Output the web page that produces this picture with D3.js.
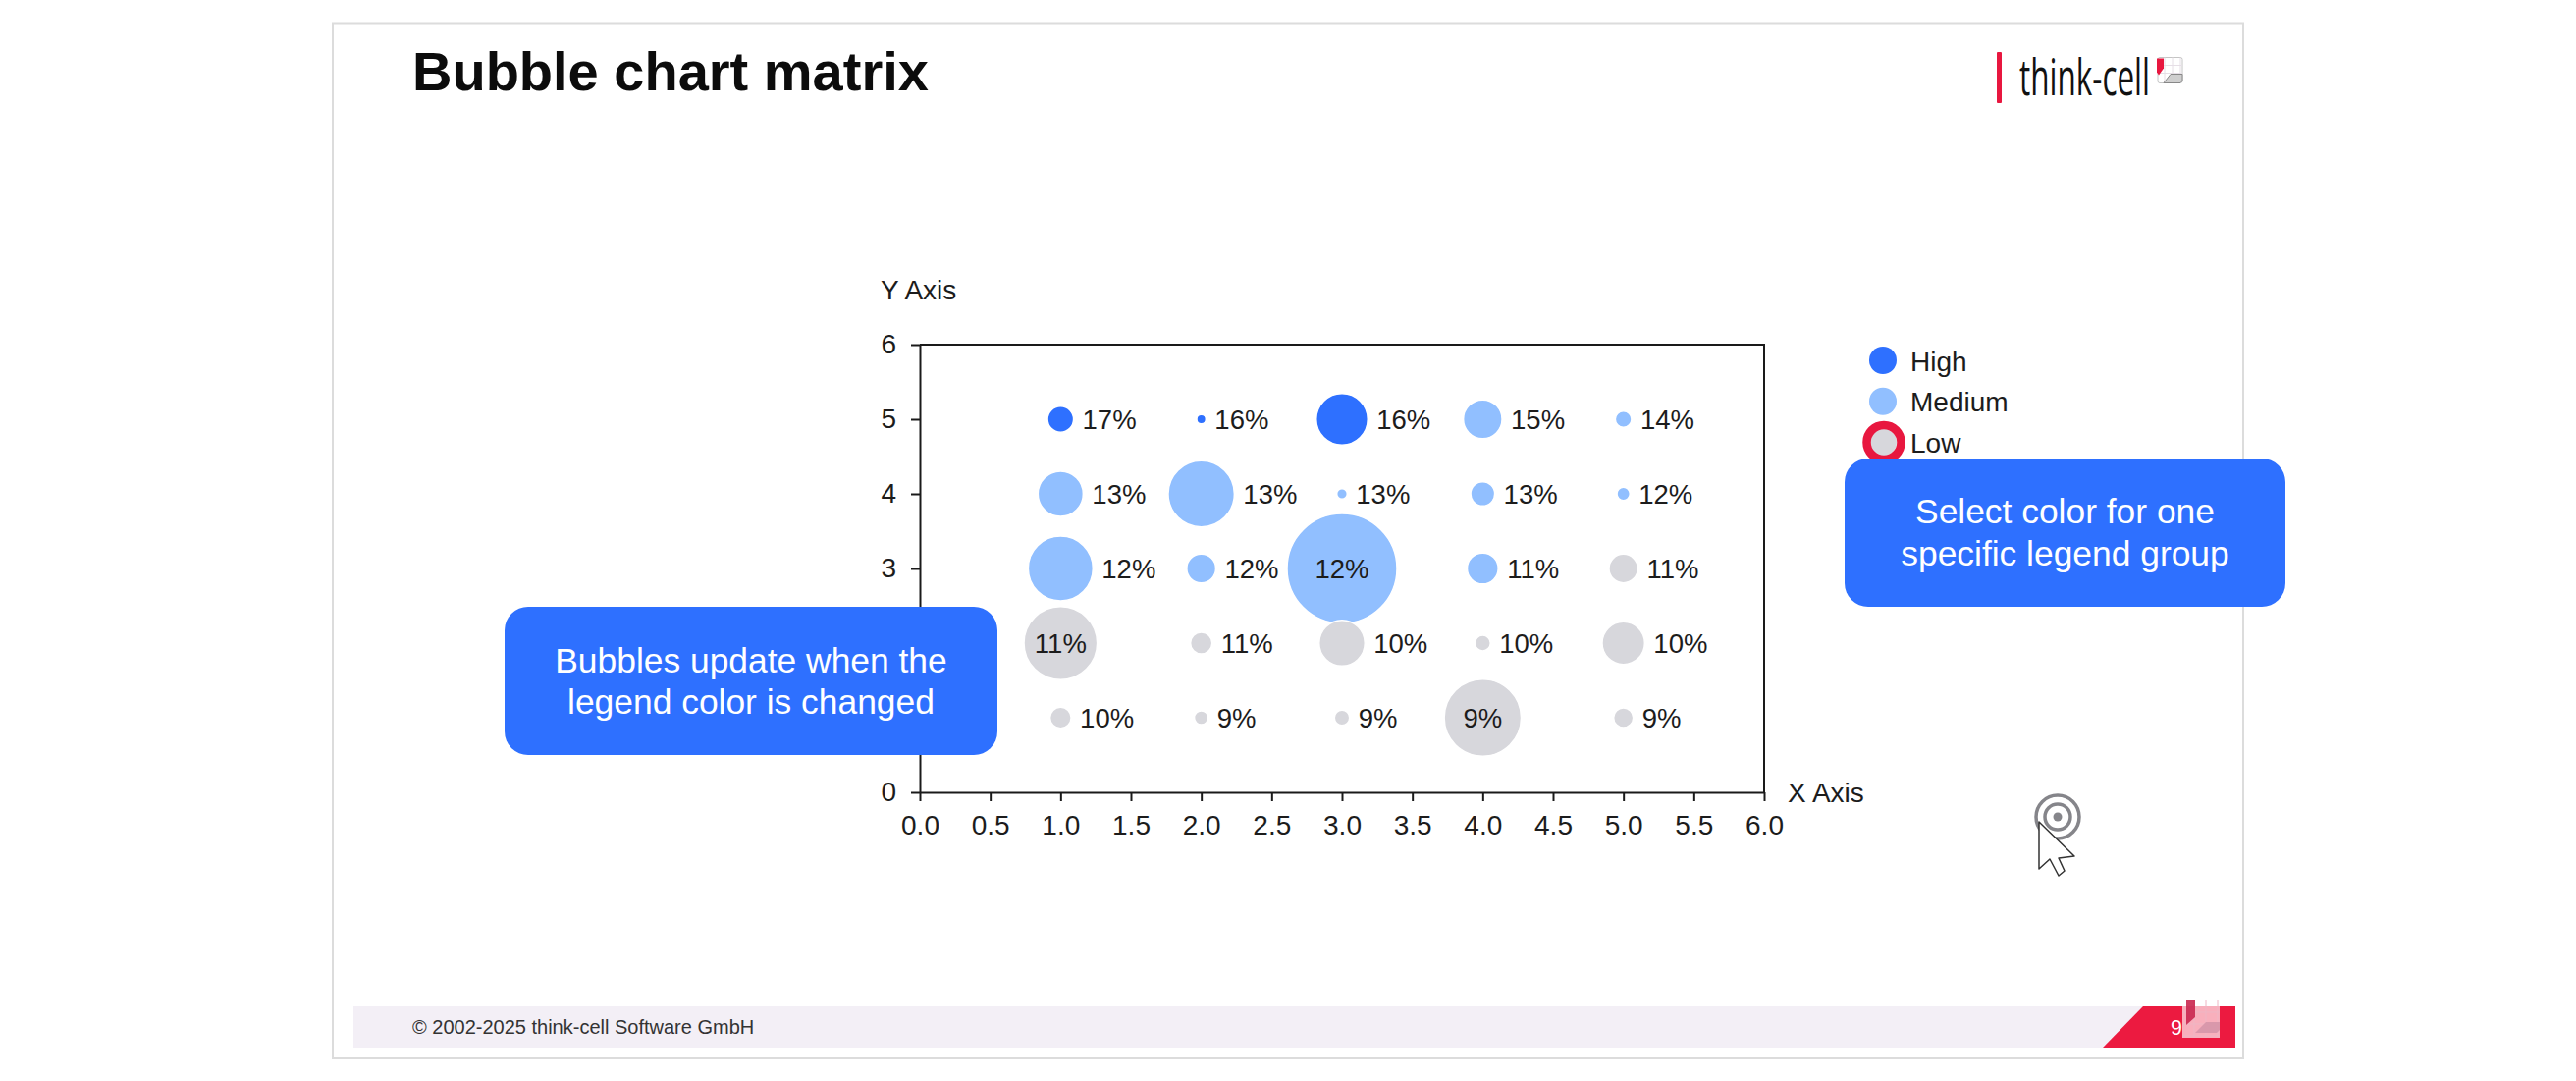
<!DOCTYPE html>
<html>
<head>
<meta charset="utf-8">
<title>Bubble chart matrix</title>
<script src="https://cdnjs.cloudflare.com/ajax/libs/d3/7.8.5/d3.min.js"></script>
<style>
	html, body { margin: 0; padding: 0; background: #fff; overflow: hidden; }
	svg { display: block; }
	text { font-family: "Liberation Sans", Arial, sans-serif; fill: #1c1c1c; }
	.axis path, .axis line { stroke: #1a1a1a; stroke-width: 2px; }
	.axis text { font-size: 28px; fill: #1c1c1c; }
</style>
</head>
<body>
<div id="viz"></div>
<script>
var xTicks = [0, 0.5, 1, 1.5, 2, 2.5, 3, 3.5, 4, 4.5, 5, 5.5, 6];
var yTicks = [0, 1, 2, 3, 4, 5, 6];
// these two labels sit under the left callout in the slide
var yTicksCovered = [1, 2];

var xValues = [1, 2, 3, 4, 5, 1, 2, 3, 4, 5, 1, 2, 3, 4, 5, 1, 2, 3, 4, 5, 1, 2, 3, 4, 5];
var yValues = [5, 5, 5, 5, 5, 4, 4, 4, 4, 4, 3, 3, 3, 3, 3, 2, 2, 2, 2, 2, 1, 1, 1, 1, 1];
var sizeValues = [5.6, 0.7, 22, 12.4, 2.2, 16.9, 36.2, 0.9, 4.8, 1.4, 34.7, 7, 100, 8, 6.9, 44.4, 3.9, 17.3, 2, 15, 3.7, 1.6, 1.9, 49, 3.2];
var percentLabels = ['17%', '16%', '16%', '15%', '14%', '13%', '13%', '13%', '13%', '12%', '12%', '12%', '12%', '11%', '11%', '11%', '11%', '10%', '10%', '10%', '10%', '9%', '9%', '9%', '9%'];
var groups = ['High', 'High', 'High', 'Medium', 'Medium', 'Medium', 'Medium', 'Medium', 'Medium', 'Medium', 'Medium', 'Medium', 'Medium', 'Medium', 'Low', 'Low', 'Low', 'Low', 'Low', 'Low', 'Low', 'Low', 'Low', 'Low', 'Low'];
var legendGroups = ['High', 'Medium', 'Low'];
var legendColors = ['#2e70ff', '#91bfff', '#d7d7dc'];

var w = 2624,
	h = 1101,
	plotLeft = 937,
	plotRight = 1797,
	plotTop = 351,
	plotBottom = 807,
	labelGap = 9;

var svg = d3.select('#viz')
	.append('svg')
	.attr('width', w)
	.attr('height', h);

var x = d3.scaleLinear().domain([0, 6]).range([plotLeft, plotRight]);
var y = d3.scaleLinear().domain([0, 6]).range([plotBottom, plotTop]);
var radius = d3.scaleSqrt().domain([0, 100]).range([0, 56]);
var color = d3.scaleOrdinal().domain(legendGroups).range(legendColors);

// slide frame
svg.append('rect')
	.attr('x', 339)
	.attr('y', 23.5)
	.attr('width', 1946)
	.attr('height', 1054.5)
	.attr('fill', '#fff')
	.attr('stroke', '#dcdcdc')
	.attr('stroke-width', 2);

svg.append('text')
	.attr('x', 420)
	.attr('y', 91.5)
	.attr('font-size', 56)
	.attr('font-weight', 'bold')
	.style('fill', '#0c0c0c')
	.text('Bubble chart matrix');

// logo
svg.append('rect')
	.attr('x', 2034)
	.attr('y', 53)
	.attr('width', 5)
	.attr('height', 52)
	.attr('rx', 1)
	.attr('fill', '#e8173f');

svg.append('text')
	.attr('x', 2057)
	.attr('y', 97)
	.attr('font-size', 51)
	.attr('textLength', 133)
	.attr('lengthAdjust', 'spacingAndGlyphs')
	.style('font-family', '"Open Sans", sans-serif')
	.style('font-weight', 400)
	.style('fill', '#111')
	.text('think-cell');

function drawGrid(g, size, step, stroke) {
	d3.range(step, size, step).forEach(function (p) {
		g.append('path')
			.attr('d', 'M' + p + ' 0V' + size + 'M0 ' + p + 'H' + size)
			.attr('stroke', stroke)
			.attr('stroke-width', 1);
	});
}

var logoIcon = svg.append('g').attr('transform', 'translate(2197,58.5)');
logoIcon.append('rect')
	.attr('x', 1)
	.attr('width', 25)
	.attr('height', 26)
	.attr('rx', 2)
	.attr('fill', '#fff')
	.attr('stroke', '#c4c4c4')
	.attr('stroke-width', 1);
drawGrid(logoIcon, 26, 8, '#e6dfe6');
logoIcon.append('path')
	.attr('d', 'M0 1H7V11L2 18L0 15Z')
	.attr('fill', '#e8173f');
logoIcon.append('path')
	.attr('d', 'M7 26L14 17H26V24L24 26Z')
	.attr('fill', '#cfcfcf')
	.attr('stroke', '#888');

// footer
svg.append('rect')
	.attr('x', 360)
	.attr('y', 1025)
	.attr('width', 1917)
	.attr('height', 42)
	.attr('fill', '#f3eff6');

svg.append('path')
	.attr('d', 'M2183 1025H2277V1067H2142Z')
	.attr('fill', '#ec1a40');

svg.append('text')
	.attr('x', 420)
	.attr('y', 1052.5)
	.attr('font-size', 20)
	.style('fill', '#333')
	.text('\u00a9 2002-2025 think-cell Software GmbH');

svg.append('text')
	.attr('x', 2211)
	.attr('y', 1054)
	.attr('font-size', 21.5)
	.style('fill', '#fff')
	.text('9');

var footerIcon = svg.append('g').attr('transform', 'translate(2223,1019)');
footerIcon.append('rect')
	.attr('width', 38)
	.attr('height', 38)
	.attr('fill', '#fff')
	.attr('opacity', 0.65);
drawGrid(footerIcon, 38, 12, '#eeb6c4');
footerIcon.append('path')
	.attr('d', 'M4 0H13V17L4 25Z')
	.attr('fill', '#c9274f')
	.attr('opacity', 0.9);
footerIcon.append('path')
	.attr('d', 'M13 33L24 22H38V30L35 33Z')
	.attr('fill', '#d998ab');

// axes and plot frame
svg.append('path')
	.attr('d', d3.line()([[plotLeft, plotTop], [plotRight, plotTop], [plotRight, plotBottom]]))
	.attr('fill', 'none')
	.attr('stroke', '#1a1a1a')
	.attr('stroke-width', 2);

svg.append('g')
	.attr('class', 'axis')
	.attr('transform', 'translate(0,' + plotBottom + ')')
	.call(d3.axisBottom(x).tickValues(xTicks).tickFormat(d3.format('.1f')).tickSize(9).tickPadding(14).tickSizeOuter(0));

svg.append('g')
	.attr('class', 'axis')
	.attr('transform', 'translate(' + plotLeft + ',0)')
	.call(d3.axisLeft(y).tickValues(yTicks).tickFormat(function (d) {
		return yTicksCovered.indexOf(d) >= 0 ? '' : d3.format('d')(d);
	}).tickSize(9).tickPadding(15).tickSizeOuter(0));

svg.append('text')
	.attr('x', 897)
	.attr('y', 305)
	.attr('font-size', 28)
	.text('Y Axis');

svg.append('text')
	.attr('x', 1821)
	.attr('y', 817)
	.attr('font-size', 28)
	.text('X Axis');

// bubbles, top row first so that lower rows sit on top
var bubbleData = xValues.map(function (d, i) {
	return {x: d, y: yValues[i], size: sizeValues[i], label: percentLabels[i], group: groups[i]};
});

svg.selectAll('.bubble')
	.data(bubbleData)
	.enter().append('circle')
	.attr('class', 'bubble')
	.attr('cx', function (d) { return x(d.x); })
	.attr('cy', function (d) { return y(d.y); })
	.attr('r', function (d) { return radius(d.size); })
	.attr('fill', function (d) { return color(d.group); })
	.attr('stroke', '#fff')
	.attr('stroke-width', 1.5);

svg.selectAll('.bubble-label')
	.data(bubbleData)
	.enter().append('text')
	.attr('class', 'bubble-label')
	.attr('font-size', 27.5)
	.attr('dy', '0.37em')
	.attr('y', function (d) { return y(d.y); })
	.attr('x', function (d) {
		// the three big bubbles carry their label inside
		return d.size >= 44 ? x(d.x) : x(d.x) + radius(d.size) + labelGap;
	})
	.attr('text-anchor', function (d) {
		return d.size >= 44 ? 'middle' : 'start';
	})
	.text(function (d) { return d.label; });

// legend
var legendY = d3.scalePoint().domain(legendGroups).range([367, 450.5]);

svg.selectAll('.legend-dot')
	.data(legendGroups)
	.enter().append('circle')
	.attr('class', 'legend-dot')
	.attr('cx', 1918)
	.attr('cy', function (d) { return legendY(d); })
	.attr('r', 14)
	.attr('fill', function (d) { return color(d); });

svg.selectAll('.legend-label')
	.data(legendGroups)
	.enter().append('text')
	.attr('class', 'legend-label')
	.attr('x', 1946)
	.attr('y', function (d) { return legendY(d) + 10.5; })
	.attr('font-size', 28)
	.text(String);

svg.append('circle')
	.attr('cx', 1919)
	.attr('cy', legendY('Low'))
	.attr('r', 17.5)
	.attr('fill', 'none')
	.attr('stroke', '#e8173f')
	.attr('stroke-width', 8.5);

// callouts
function drawCallout(left, top, width, height, lines, baselines) {
	svg.append('rect')
		.attr('x', left)
		.attr('y', top)
		.attr('width', width)
		.attr('height', height)
		.attr('rx', 24)
		.attr('fill', '#2e70ff');
	lines.forEach(function (line, i) {
		svg.append('text')
			.attr('x', left + width / 2)
			.attr('y', baselines[i])
			.attr('text-anchor', 'middle')
			.attr('font-size', 35.4)
			.style('fill', '#fff')
			.text(line);
	});
}

drawCallout(514, 618, 502, 151, ['Bubbles update when the', 'legend color is changed'], [685, 727]);
drawCallout(1879, 467, 449, 151, ['Select color for one', 'specific legend group'], [533, 576]);

// click target and cursor
var pointer = svg.append('g').attr('transform', 'translate(2096,832)');
pointer.append('circle').attr('r', 22).attr('fill', 'none').attr('stroke', '#85858a').attr('stroke-width', 3.5);
pointer.append('circle').attr('r', 13).attr('fill', 'none').attr('stroke', '#85858a').attr('stroke-width', 3.5);
pointer.append('circle').attr('r', 4.5).attr('fill', '#85858a');
pointer.append('path')
	.attr('d', 'M-19 5L17 40L1 42L7 55L1 60L-8 43L-19 53Z')
	.attr('fill', '#fff')
	.attr('stroke', '#333')
	.attr('stroke-width', 1.5)
	.attr('stroke-linejoin', 'round');
</script>
</body>
</html>
